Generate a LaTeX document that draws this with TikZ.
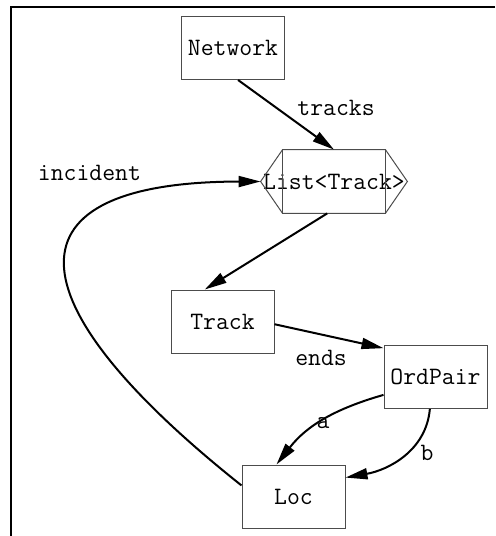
\documentclass[tikz,border=0pt]{standalone}
\usepackage{fontspec}
\usetikzlibrary{arrows.meta}
\begin{document}
\begin{tikzpicture}[x=0.5pt,y=-0.5pt,
  font=\ttfamily\fontsize{12.5}{14}\selectfont,
  box/.style={draw=black!70,line width=0.5pt,minimum width=51.5pt,minimum height=31.5pt,inner sep=0pt},
  edge/.style={line width=1pt,-{Triangle[length=11pt,width=5.5pt]}}]
\useasboundingbox (0,0) rectangle (495,536);
\draw[line width=1pt] (495,7) -- (11,7) -- (11,536);
% classes
\node[box] (net) at (233,48) {Network};
\node[minimum width=73pt,minimum height=31.5pt,inner sep=0pt] (lst) at (334,181.5) {List<Track>};
\draw[black!70,line width=0.5pt] (lst.west) -- ([xshift=11pt]lst.north west) -- ([xshift=-11pt]lst.north east)
  -- (lst.east) -- ([xshift=-11pt]lst.south east) -- ([xshift=11pt]lst.south west) -- cycle;
\draw[black!70,line width=0.5pt] ([xshift=11pt]lst.north west) -- ([xshift=11pt]lst.south west)
  ([xshift=-11pt]lst.north east) -- ([xshift=-11pt]lst.south east);
\node[box] (trk) at (222.5,321.5) {Track};
\node[box] (ord) at (435.5,377) {OrdPair};
\node[box] (loc) at (293.5,496.5) {Loc};
% fields
\draw[edge] (net.279) -- (lst.north);
\draw[edge] (lst.258) -- (trk.119);
\draw[edge] (trk.357) -- (ord.151);
\draw[edge] (ord.199) to[out=196,in=52] (loc.118);
\draw[edge] (ord.260) to[out=265,in=10] (loc.20);
\draw[edge] (loc.168) .. controls (7,299) and (3,182) .. (lst.west);
\node (tracks) at (336,108) {tracks};
\node (ends) at (321,358) {ends};
\node (fa) at (323,423) {a};
\node (fb) at (427,453) {b};
\node (incident) at (89.5,173) {incident};
\end{tikzpicture}
\end{document}
